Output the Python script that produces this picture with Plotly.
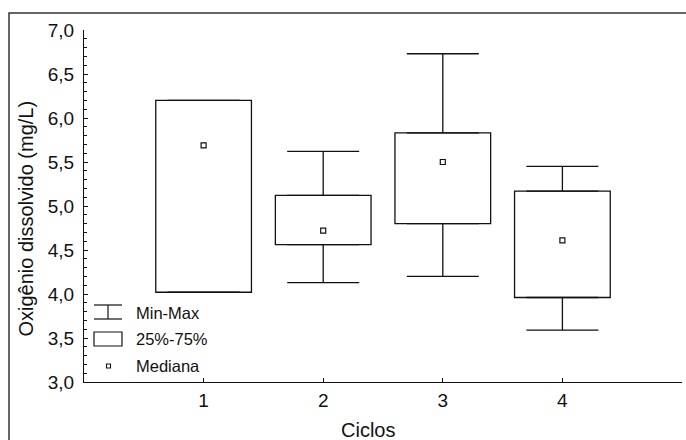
import plotly.graph_objects as go

# ---- data ----
ciclos = [1, 2, 3, 4]
tick_labels = ["1", "2", "3", "4"]
q1 = [4.02, 4.56, 4.80, 3.96]
q3 = [6.20, 5.12, 5.83, 5.17]
mediana = [5.69, 4.72, 5.50, 4.61]
minimo = [4.02, 4.13, 4.20, 3.59]
maximo = [6.20, 5.62, 6.73, 5.45]
y_ticks = [3.0, 3.5, 4.0, 4.5, 5.0, 5.5, 6.0, 6.5, 7.0]

FONT = "Liberation Sans, Arial, sans-serif"
LINE = "#111111"

fig = go.Figure()

# boxes (25%-75%)
fig.add_trace(go.Bar(
    x=ciclos, y=[b - a for a, b in zip(q1, q3)], base=q1, width=0.8,
    marker=dict(color="white", line=dict(color=LINE, width=1.3)),
    showlegend=False, hoverinfo="skip"))

# upper whiskers
fig.add_trace(go.Scatter(
    x=ciclos, y=q3, mode="markers",
    marker=dict(size=1, color="rgba(0,0,0,0)"),
    error_y=dict(type="data", symmetric=False,
                 array=[m - q for m, q in zip(maximo, q3)],
                 arrayminus=[0] * len(q3), width=36, thickness=1.3, color=LINE),
    showlegend=False, hoverinfo="skip"))

# lower whiskers
fig.add_trace(go.Scatter(
    x=ciclos, y=q1, mode="markers",
    marker=dict(size=1, color="rgba(0,0,0,0)"),
    error_y=dict(type="data", symmetric=False,
                 array=[0] * len(q1),
                 arrayminus=[q - m for m, q in zip(minimo, q1)], width=36, thickness=1.3, color=LINE),
    showlegend=False, hoverinfo="skip"))

# medians
fig.add_trace(go.Scatter(
    x=ciclos, y=mediana, mode="markers",
    marker=dict(symbol="square-open", size=5, color=LINE, line=dict(width=1.2, color=LINE)),
    showlegend=False, hoverinfo="skip"))

L, R, T, B = 84, 4, 30, 58
W, H = 686, 440
pw, ph = W - L - R, H - T - B


def px(x):
    return (x - L) / pw


def py(y):
    return (H - B - y) / ph


shapes = []
# outer frame
shapes.append(dict(type="rect", xref="paper", yref="paper",
                   x0=px(9), x1=px(760), y0=py(520), y1=py(13),
                   line=dict(color="#333333", width=1.5), layer="below"))
# legend: whisker symbol
shapes.append(dict(type="line", xref="paper", yref="paper", x0=px(94), x1=px(122), y0=py(305), y1=py(305), line=dict(color=LINE, width=1.2)))
shapes.append(dict(type="line", xref="paper", yref="paper", x0=px(94), x1=px(122), y0=py(319), y1=py(319), line=dict(color=LINE, width=1.2)))
shapes.append(dict(type="line", xref="paper", yref="paper", x0=px(108), x1=px(108), y0=py(305), y1=py(319), line=dict(color=LINE, width=1.2)))
# legend: box symbol
shapes.append(dict(type="rect", xref="paper", yref="paper", x0=px(94), x1=px(122), y0=py(346), y1=py(332), line=dict(color=LINE, width=1.2)))
# legend: median symbol
shapes.append(dict(type="rect", xref="paper", yref="paper", x0=px(106.5), x1=px(110.5), y0=py(368), y1=py(364), line=dict(color=LINE, width=1.1)))

annotations = []
for label, yy in [("Min-Max", 312.7), ("25%-75%", 339.3), ("Mediana", 366)]:
    annotations.append(dict(text=label, xref="paper", yref="paper", x=px(134), y=py(yy),
                            xanchor="left", yanchor="middle", showarrow=False,
                            font=dict(family=FONT, size=16.5, color="#111")))
annotations.append(dict(text="Ciclos", xref="paper", yref="paper", x=px(367.5), y=py(430),
                        xanchor="center", yanchor="middle", showarrow=False,
                        font=dict(family=FONT, size=20, color="#111")))
annotations.append(dict(text="Oxigênio dissolvido (mg/L)", xref="paper", yref="paper", x=px(25), y=py(218.5),
                        xanchor="center", yanchor="middle", textangle=-90, showarrow=False,
                        font=dict(family=FONT, size=20, color="#111")))

fig.update_layout(
    width=W, height=H,
    margin=dict(l=L, r=R, t=T, b=B),
    paper_bgcolor="white", plot_bgcolor="white",
    barmode="overlay", showlegend=False,
    font=dict(family=FONT, size=19, color="#111"),
    shapes=shapes, annotations=annotations,
    xaxis=dict(range=[0, 5], tickvals=ciclos + [5], ticktext=tick_labels + [""],
               ticks="inside", ticklen=4, tickcolor=LINE, tickwidth=1,
               showline=True, linecolor=LINE, linewidth=1.3, showgrid=False, zeroline=False,
               tickfont=dict(size=19), ticklabelstandoff=1),
    yaxis=dict(range=[3, 7], tickvals=y_ticks,
               ticktext=[f"{v:.1f}".replace(".", ",") for v in y_ticks],
               ticks="inside", ticklen=4, tickcolor=LINE, tickwidth=1,
               minor=dict(dtick=0.1, ticks="inside", ticklen=3, tickcolor=LINE, tickwidth=1),
               showline=True, linecolor=LINE, linewidth=1.3, showgrid=False, zeroline=False,
               tickfont=dict(size=19), ticklabelstandoff=5),
)

fig.write_html("out.html",
               config={"displayModeBar": False},
               post_script="document.body.style.margin='0';document.body.style.overflow='hidden';")
